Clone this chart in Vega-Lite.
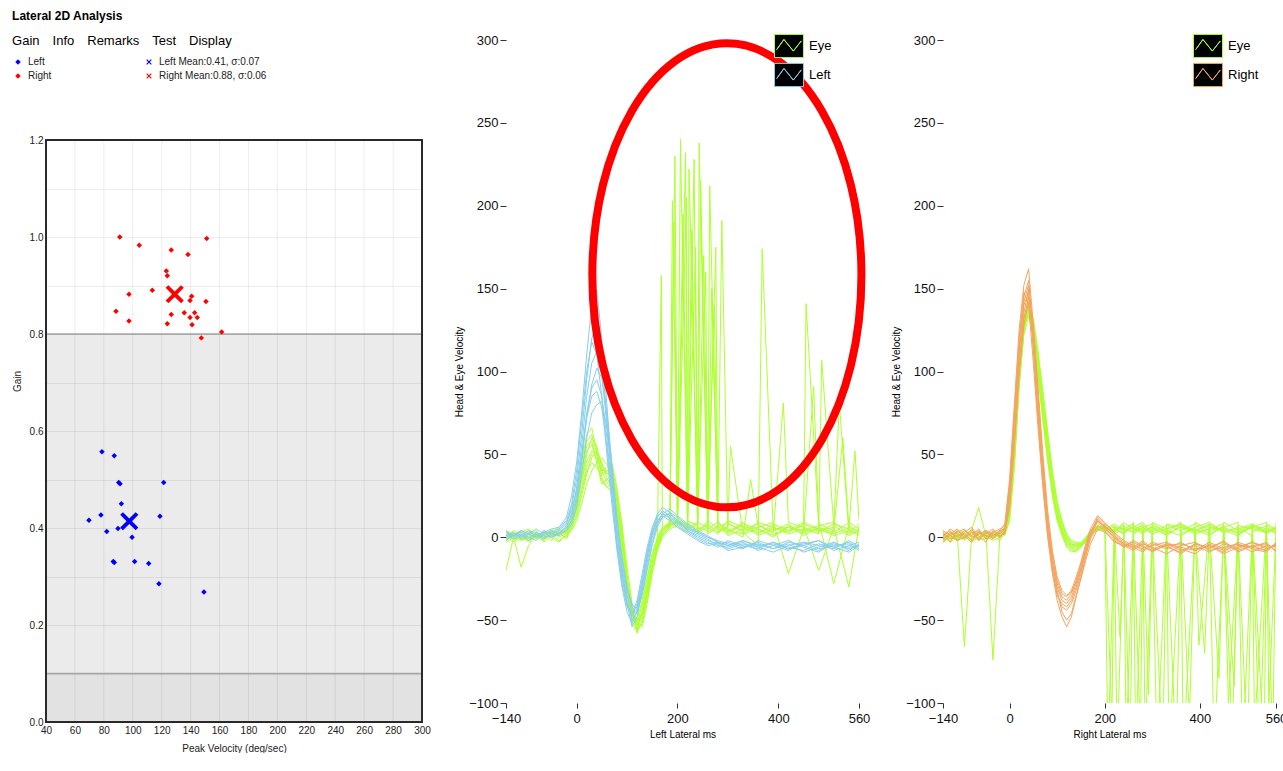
{
"$schema":"https://vega.github.io/schema/vega-lite/v6.json",
"background":"#ffffff",
"padding":{"left":12,"top":10,"right":0,"bottom":0},
"title":{"text":"Lateral 2D Analysis","anchor":"start","fontSize":12,"fontWeight":"bold","font":"Liberation Sans","color":"#000000","offset":4},
"config":{"font":"Liberation Sans","view":{"stroke":null}},
"spacing":84,
"bounds":"flush",
"resolve":{"scale":{"color":"independent","x":"independent","y":"independent","shape":"independent"}},
"datasets":{
"gain":[
{"pv":91.0,"gain":1.000,"s":"Right"},{"pv":104.5,"gain":0.983,"s":"Right"},{"pv":126.6,"gain":0.973,"s":"Right"},{"pv":151.1,"gain":0.997,"s":"Right"},{"pv":138.2,"gain":0.964,"s":"Right"},{"pv":123.2,"gain":0.930,"s":"Right"},{"pv":123.9,"gain":0.920,"s":"Right"},{"pv":97.4,"gain":0.882,"s":"Right"},{"pv":113.5,"gain":0.890,"s":"Right"},{"pv":140.7,"gain":0.878,"s":"Right"},{"pv":139.6,"gain":0.869,"s":"Right"},{"pv":150.6,"gain":0.867,"s":"Right"},{"pv":88.4,"gain":0.847,"s":"Right"},{"pv":97.4,"gain":0.827,"s":"Right"},{"pv":126.6,"gain":0.840,"s":"Right"},{"pv":135.6,"gain":0.844,"s":"Right"},{"pv":142.8,"gain":0.844,"s":"Right"},{"pv":139.6,"gain":0.834,"s":"Right"},{"pv":144.6,"gain":0.834,"s":"Right"},{"pv":123.9,"gain":0.821,"s":"Right"},{"pv":141.0,"gain":0.819,"s":"Right"},{"pv":147.4,"gain":0.792,"s":"Right"},{"pv":161.5,"gain":0.804,"s":"Right"},
{"pv":78.7,"gain":0.557,"s":"Left"},{"pv":87.2,"gain":0.549,"s":"Left"},{"pv":90.3,"gain":0.494,"s":"Left"},{"pv":91.2,"gain":0.491,"s":"Left"},{"pv":121.4,"gain":0.494,"s":"Left"},{"pv":92.1,"gain":0.450,"s":"Left"},{"pv":78.0,"gain":0.427,"s":"Left"},{"pv":69.7,"gain":0.416,"s":"Left"},{"pv":118.8,"gain":0.424,"s":"Left"},{"pv":82.0,"gain":0.393,"s":"Left"},{"pv":89.8,"gain":0.399,"s":"Left"},{"pv":99.5,"gain":0.381,"s":"Left"},{"pv":86.5,"gain":0.331,"s":"Left"},{"pv":87.2,"gain":0.329,"s":"Left"},{"pv":101.3,"gain":0.331,"s":"Left"},{"pv":111.0,"gain":0.327,"s":"Left"},{"pv":118.1,"gain":0.285,"s":"Left"},{"pv":149.2,"gain":0.268,"s":"Left"}
],
"gmean":[
{"pv":97.6,"gain":0.414,"s":"Left Mean:0.41, σ:0.07"},{"pv":129.0,"gain":0.882,"s":"Right Mean:0.88, σ:0.06"}
],
"mid":[
{"t":-140,"h1":3,"h2":-2,"h3":4,"h4":1,"h5":-1,"h6":2,"h7":0,"h8":3,"e1":-20,"e2":2,"e3":-1,"e4":3,"e5":0,"e6":-2,"e7":1,"e8":4,"e9":-3,"e10":1},
{"t":-125,"h1":1,"h2":2,"h3":0,"h4":3,"h5":1,"h6":-1,"h7":2,"h8":1,"e1":0,"e2":-3,"e3":2,"e4":0,"e5":4,"e6":1,"e7":-1,"e8":2,"e9":0,"e10":3},
{"t":-110,"h1":4,"h2":0,"h3":2,"h4":-1,"h5":3,"h6":1,"h7":1,"h8":4,"e1":-18,"e2":1,"e3":4,"e4":-2,"e5":1,"e6":3,"e7":0,"e8":-1,"e9":2,"e10":-2},
{"t":-95,"h1":2,"h2":3,"h3":-1,"h4":2,"h5":0,"h6":4,"h7":-2,"h8":2,"e1":-5,"e2":4,"e3":0,"e4":2,"e5":-3,"e6":5,"e7":2,"e8":1,"e9":-2,"e10":0},
{"t":-80,"h1":0,"h2":1,"h3":3,"h4":0,"h5":-2,"h6":2,"h7":1,"h8":5,"e1":2,"e2":0,"e3":3,"e4":-1,"e5":2,"e6":-1,"e7":4,"e8":0,"e9":3,"e10":2},
{"t":-65,"h1":3,"h2":-1,"h3":1,"h4":4,"h5":2,"h6":0,"h7":3,"h8":2,"e1":0,"e2":-2,"e3":1,"e4":4,"e5":-1,"e6":2,"e7":-3,"e8":3,"e9":1,"e10":-1},
{"t":-50,"h1":5,"h2":2,"h3":0,"h4":2,"h5":4,"h6":1,"h7":0,"h8":3,"e1":3,"e2":3,"e3":-2,"e4":0,"e5":5,"e6":0,"e7":1,"e8":2,"e9":4,"e10":3},
{"t":-35,"h1":6,"h2":4,"h3":3,"h4":1,"h5":2,"h6":5,"h7":2,"h8":6,"e1":1,"e2":2,"e3":4,"e4":-3,"e5":0,"e6":3,"e7":2,"e8":-2,"e9":2,"e10":5},
{"t":-20,"h1":12,"h2":8,"h3":6,"h4":5,"h5":7,"h6":9,"h7":4,"h8":10,"e1":4,"e2":6,"e3":3,"e4":2,"e5":3,"e6":-1,"e7":5,"e8":1,"e9":0,"e10":2},
{"t":-10,"h1":25,"h2":18,"h3":14,"h4":10,"h5":12,"h6":16,"h7":8,"h8":20,"e1":10,"e2":14,"e3":8,"e4":5,"e5":9,"e6":6,"e7":11,"e8":4,"e9":7,"e10":8},
{"t":0,"h1":45,"h2":35,"h3":30,"h4":22,"h5":25,"h6":28,"h7":18,"h8":40,"e1":20,"e2":28,"e3":16,"e4":12,"e5":22,"e6":14,"e7":24,"e8":10,"e9":18,"e10":19},
{"t":10,"h1":75,"h2":62,"h3":55,"h4":45,"h5":48,"h6":50,"h7":38,"h8":70,"e1":35,"e2":45,"e3":30,"e4":25,"e5":40,"e6":28,"e7":42,"e8":20,"e9":36,"e10":34},
{"t":20,"h1":110,"h2":95,"h3":85,"h4":72,"h5":75,"h6":72,"h7":60,"h8":100,"e1":50,"e2":62,"e3":42,"e4":38,"e5":55,"e6":40,"e7":58,"e8":32,"e9":52,"e10":46},
{"t":30,"h1":140,"h2":120,"h3":105,"h4":92,"h5":90,"h6":85,"h7":75,"h8":118,"e1":60,"e2":66,"e3":50,"e4":48,"e5":58,"e6":45,"e7":62,"e8":40,"e9":56,"e10":52},
{"t":40,"h1":149,"h2":128,"h3":112,"h4":102,"h5":95,"h6":88,"h7":80,"h8":110,"e1":55,"e2":52,"e3":48,"e4":52,"e5":45,"e6":42,"e7":50,"e8":45,"e9":46,"e10":50},
{"t":50,"h1":120,"h2":108,"h3":98,"h4":96,"h5":85,"h6":78,"h7":82,"h8":85,"e1":42,"e2":36,"e3":40,"e4":45,"e5":32,"e6":38,"e7":40,"e8":48,"e9":34,"e10":44},
{"t":60,"h1":80,"h2":72,"h3":68,"h4":75,"h5":60,"h6":55,"h7":66,"h8":50,"e1":38,"e2":30,"e3":42,"e4":36,"e5":35,"e6":40,"e7":33,"e8":44,"e9":30,"e10":39},
{"t":70,"h1":40,"h2":35,"h3":34,"h4":45,"h5":28,"h6":25,"h7":40,"h8":20,"e1":40,"e2":28,"e3":45,"e4":30,"e5":38,"e6":42,"e7":30,"e8":38,"e9":32,"e10":36},
{"t":80,"h1":5,"h2":2,"h3":4,"h4":12,"h5":-2,"h6":-5,"h7":10,"h8":-8,"e1":25,"e2":12,"e3":30,"e4":18,"e5":22,"e6":28,"e7":15,"e8":24,"e9":18,"e10":21},
{"t":90,"h1":-20,"h2":-22,"h3":-18,"h4":-12,"h5":-25,"h6":-28,"h7":-15,"h8":-30,"e1":0,"e2":-10,"e3":5,"e4":-5,"e5":-2,"e6":8,"e7":-8,"e8":2,"e9":-4,"e10":0},
{"t":100,"h1":-38,"h2":-40,"h3":-35,"h4":-30,"h5":-40,"h6":-42,"h7":-32,"h8":-45,"e1":-30,"e2":-35,"e3":-25,"e4":-28,"e5":-30,"e6":-18,"e7":-32,"e8":-22,"e9":-28,"e10":-26},
{"t":110,"h1":-50,"h2":-54,"h3":-45,"h4":-42,"h5":-48,"h6":-46,"h7":-40,"h8":-52,"e1":-48,"e2":-50,"e3":-45,"e4":-42,"e5":-52,"e6":-40,"e7":-47,"e8":-42,"e9":-46,"e10":-44},
{"t":120,"h1":-45,"h2":-48,"h3":-42,"h4":-46,"h5":-40,"h6":-38,"h7":-44,"h8":-44,"e1":-55,"e2":-53,"e3":-58,"e4":-50,"e5":-57,"e6":-52,"e7":-50,"e8":-56,"e9":-54,"e10":-52},
{"t":130,"h1":-30,"h2":-32,"h3":-28,"h4":-35,"h5":-25,"h6":-22,"h7":-34,"h8":-28,"e1":-45,"e2":-40,"e3":-50,"e4":-46,"e5":-44,"e6":-54,"e7":-38,"e8":-52,"e9":-48,"e10":-46},
{"t":140,"h1":-12,"h2":-15,"h3":-10,"h4":-20,"h5":-8,"h6":-6,"h7":-18,"h8":-12,"e1":-30,"e2":-25,"e3":-35,"e4":-32,"e5":-28,"e6":-40,"e7":-24,"e8":-38,"e9":-34,"e10":-31},
{"t":150,"h1":2,"h2":0,"h3":3,"h4":-5,"h5":5,"h6":6,"h7":-3,"h8":2,"e1":-15,"e2":-10,"e3":-18,"e4":-18,"e5":-12,"e6":-22,"e7":-10,"e8":-20,"e9":-16,"e10":-15},
{"t":160,"h1":10,"h2":8,"h3":12,"h4":6,"h5":14,"h6":13,"h7":8,"h8":10,"e1":-5,"e2":0,"e3":-6,"e4":-8,"e5":-2,"e6":-8,"e7":-1,"e8":-7,"e9":-4,"e10":-3},
{"t":170,"h1":14,"h2":12,"h3":16,"h4":12,"h5":18,"h6":15,"h7":14,"h8":13,"e1":3,"e2":6,"e3":2,"e4":0,"e5":4,"e6":1,"e7":5,"e8":2,"e9":4,"e10":4},
{"t":185,"h1":12,"h2":14,"h3":13,"h4":15,"h5":15,"h6":11,"h7":17,"h8":10,"e1":8,"e2":9,"e3":6,"e4":5,"e5":10,"e6":7,"e7":8,"e8":6,"e9":9,"e10":7},
{"t":200,"h1":8,"h2":10,"h3":9,"h4":12,"h5":10,"h6":7,"h7":13,"h8":6,"e1":10,"e2":8,"e3":11,"e4":7,"e5":12,"e6":9,"e7":6,"e8":10,"e9":8,"e10":9},
{"t":220,"h1":4,"h2":6,"h3":5,"h4":7,"h5":4,"h6":3,"h7":8,"h8":2,"e1":6,"e2":10,"e3":5,"e4":9,"e5":4,"e6":7,"e7":3,"e8":8,"e9":6,"e10":5},
{"t":240,"h1":1,"h2":3,"h3":2,"h4":3,"h5":0,"h6":-1,"h7":4,"h8":-2,"e1":4,"e2":7,"e3":8,"e4":3,"e5":9,"e6":2,"e7":6,"e8":5,"e9":9,"e10":3},
{"t":260,"h1":-2,"h2":0,"h3":-1,"h4":0,"h5":-3,"h6":-4,"h7":1,"h8":-5,"e1":8,"e2":5,"e3":2,"e4":6,"e5":6,"e6":10,"e7":4,"e8":7,"e9":3,"e10":8},
{"t":280,"h1":-4,"h2":-3,"h3":-5,"h4":-2,"h5":-6,"h6":-3,"h7":-3,"h8":-4,"e1":3,"e2":9,"e3":6,"e4":10,"e5":2,"e6":5,"e7":8,"e8":3,"e9":7,"e10":6},
{"t":300,"h1":-3,"h2":-5,"h3":-6,"h4":-4,"h5":-2,"h6":-7,"h7":-5,"h8":-8,"e1":6,"e2":4,"e3":9,"e4":1,"e5":8,"e6":3,"e7":5,"e8":10,"e9":2,"e10":4},
{"t":330,"h1":-6,"h2":-2,"h3":-3,"h4":-7,"h5":-5,"h6":-4,"h7":-2,"h8":-6,"e1":2,"e2":7,"e3":3,"e4":5,"e5":4,"e6":9,"e7":0,"e8":6,"e9":8,"e10":2},
{"t":360,"h1":-4,"h2":-6,"h3":-8,"h4":-2,"h5":-7,"h6":-6,"h7":-5,"h8":-3,"e1":5,"e2":3,"e3":-5,"e4":8,"e5":6,"e6":1,"e7":7,"e8":2,"e9":5,"e10":9},
{"t":390,"h1":-7,"h2":-3,"h3":-5,"h4":-5,"h5":-3,"h6":-9,"h7":-4,"h8":-7,"e1":0,"e2":6,"e3":4,"e4":2,"e5":9,"e6":5,"e7":3,"e8":8,"e9":1,"e10":6},
{"t":420,"h1":-3,"h2":-7,"h3":-2,"h4":-8,"h5":-6,"h6":-5,"h7":-7,"h8":-4,"e1":7,"e2":2,"e3":8,"e4":4,"e5":-22,"e6":6,"e7":9,"e8":4,"e9":6,"e10":3},
{"t":450,"h1":-5,"h2":-4,"h3":-6,"h4":-3,"h5":-8,"h6":-3,"h7":-5,"h8":-9,"e1":3,"e2":5,"e3":1,"e4":7,"e5":5,"e6":2,"e7":6,"e8":9,"e9":4,"e10":8},
{"t":480,"h1":-8,"h2":-2,"h3":-9,"h4":-5,"h5":-4,"h6":-7,"h7":-2,"h8":-6,"e1":5,"e2":8,"e3":6,"e4":-20,"e5":2,"e6":10,"e7":3,"e8":5,"e9":7,"e10":4},
{"t":510,"h1":-4,"h2":-6,"h3":-3,"h4":-7,"h5":-6,"h6":-5,"h7":-8,"h8":-3,"e1":1,"e2":4,"e3":3,"e4":6,"e5":7,"e6":-28,"e7":8,"e8":2,"e9":9,"e10":6},
{"t":540,"h1":-6,"h2":-3,"h3":-8,"h4":-2,"h5":-9,"h6":-4,"h7":-5,"h8":-7,"e1":4,"e2":6,"e3":9,"e4":3,"e5":1,"e6":7,"e7":5,"e8":6,"e9":2,"e10":-30},
{"t":560,"h1":-5,"h2":-7,"h3":-4,"h4":-6,"h5":-5,"h6":-8,"h7":-3,"h8":-5,"e1":2,"e2":3,"e3":5,"e4":8,"e5":4,"e6":3,"e7":1,"e8":10,"e9":5,"e10":7},
{"t":206,"e1":240},{"t":228,"e1":185},{"t":305,"e1":55},{"t":218,"e2":205},{"t":243,"e2":238},{"t":455,"e2":141},{"t":528,"e2":60},{"t":195,"e3":230},{"t":256,"e3":160},{"t":368,"e3":174},{"t":216,"e4":232},{"t":273,"e4":140},{"t":521,"e4":81},{"t":233,"e5":228},{"t":486,"e5":107},{"t":190,"e6":203},{"t":236,"e6":175},{"t":470,"e6":91},{"t":223,"e7":222},{"t":268,"e7":150},{"t":345,"e7":35},{"t":410,"e7":81},{"t":193,"e8":190},{"t":264,"e8":212},{"t":552,"e8":52},{"t":168,"e9":158},{"t":246,"e9":215},{"t":288,"e9":191},{"t":211,"e10":195},{"t":252,"e10":170},{"t":276,"e10":175}
],
"rgt":[
{"t":-140,"o1":2,"o2":-2,"o3":4,"o4":0,"o5":-3,"o6":3,"o7":1,"o8":-1,"g1":3,"g2":0,"g3":1,"g4":-2,"g5":2,"g6":0,"g7":-1,"g8":4,"g9":1,"g10":-3},
{"t":-125,"o1":-3,"o2":3,"o3":1,"o4":5,"o5":1,"o6":-1,"o7":4,"o8":2,"g1":-1,"g2":2,"g3":-3,"g4":1,"g5":0,"g6":3,"g7":2,"g8":1,"g9":-2,"g10":0},
{"t":-110,"o1":4,"o2":0,"o3":-2,"o4":2,"o5":3,"o6":1,"o7":-2,"o8":5,"g1":2,"g2":-2,"g3":0,"g4":3,"g5":-1,"g6":1,"g7":4,"g8":-1,"g9":2,"g10":1},
{"t":-95,"o1":0,"o2":4,"o3":3,"o4":-1,"o5":5,"o6":2,"o7":0,"o8":1,"g1":-66,"g2":1,"g3":2,"g4":0,"g5":3,"g6":-2,"g7":1,"g8":2,"g9":4,"g10":-1},
{"t":-80,"o1":5,"o2":1,"o3":6,"o4":3,"o5":0,"o6":-2,"o7":3,"o8":-3,"g1":0,"g2":3,"g3":4,"g4":-1,"g5":1,"g6":2,"g7":-3,"g8":0,"g9":1,"g10":4},
{"t":-65,"o1":-2,"o2":5,"o3":0,"o4":1,"o5":2,"o6":4,"o7":-1,"o8":3,"g1":2,"g2":-1,"g3":18,"g4":2,"g5":-2,"g6":4,"g7":0,"g8":3,"g9":-1,"g10":2},
{"t":-50,"o1":3,"o2":-1,"o3":4,"o4":-3,"o5":4,"o6":0,"o7":2,"o8":1,"g1":1,"g2":4,"g3":1,"g4":3,"g5":0,"g6":-1,"g7":2,"g8":-2,"g9":3,"g10":1},
{"t":-35,"o1":1,"o2":2,"o3":2,"o4":4,"o5":-1,"o6":3,"o7":5,"o8":0,"g1":3,"g2":-74,"g3":-2,"g4":1,"g5":2,"g6":0,"g7":3,"g8":1,"g9":0,"g10":-1},
{"t":-20,"o1":4,"o2":0,"o3":1,"o4":2,"o5":3,"o6":5,"o7":0,"o8":4,"g1":2,"g2":3,"g3":0,"g4":-2,"g5":4,"g6":3,"g7":1,"g8":2,"g9":2,"g10":3},
{"t":-10,"o1":8,"o2":4,"o3":2,"o4":5,"o5":6,"o6":7,"o7":3,"o8":5,"g1":4,"g2":5,"g3":2,"g4":3,"g5":1,"g6":2,"g7":4,"g8":3,"g9":5,"g10":2},
{"t":0,"o1":35,"o2":28,"o3":20,"o4":30,"o5":22,"o6":32,"o7":18,"o8":26,"g1":18,"g2":12,"g3":14,"g4":16,"g5":10,"g6":15,"g7":20,"g8":13,"g9":17,"g10":11},
{"t":10,"o1":80,"o2":70,"o3":58,"o4":72,"o5":62,"o6":75,"o7":55,"o8":68,"g1":55,"g2":45,"g3":48,"g4":52,"g5":42,"g6":50,"g7":58,"g8":46,"g9":53,"g10":44},
{"t":20,"o1":125,"o2":115,"o3":100,"o4":112,"o5":104,"o6":120,"o7":98,"o8":110,"g1":100,"g2":95,"g3":96,"g4":98,"g5":92,"g6":99,"g7":104,"g8":94,"g9":100,"g10":90},
{"t":30,"o1":152,"o2":145,"o3":132,"o4":140,"o5":135,"o6":148,"o7":128,"o8":142,"g1":130,"g2":125,"g3":126,"g4":128,"g5":124,"g6":129,"g7":132,"g8":125,"g9":130,"g10":122},
{"t":40,"o1":162,"o2":155,"o3":145,"o4":148,"o5":150,"o6":140,"o7":142,"o8":152,"g1":145,"g2":149,"g3":136,"g4":134,"g5":140,"g6":138,"g7":142,"g8":137,"g9":141,"g10":133},
{"t":50,"o1":128,"o2":120,"o3":118,"o4":112,"o5":122,"o6":105,"o7":125,"o8":116,"g1":130,"g2":128,"g3":124,"g4":122,"g5":132,"g6":120,"g7":126,"g8":128,"g9":124,"g10":126},
{"t":60,"o1":85,"o2":78,"o3":80,"o4":70,"o5":82,"o6":65,"o7":90,"o8":74,"g1":108,"g2":100,"g3":106,"g4":104,"g5":112,"g6":98,"g7":102,"g8":110,"g9":96,"g10":108},
{"t":70,"o1":45,"o2":38,"o3":42,"o4":32,"o5":44,"o6":30,"o7":50,"o8":36,"g1":82,"g2":75,"g3":84,"g4":78,"g5":86,"g6":72,"g7":76,"g8":88,"g9":70,"g10":86},
{"t":80,"o1":10,"o2":5,"o3":10,"o4":2,"o5":12,"o6":0,"o7":16,"o8":4,"g1":58,"g2":50,"g3":56,"g4":52,"g5":60,"g6":48,"g7":50,"g8":62,"g9":46,"g10":64},
{"t":90,"o1":-15,"o2":-18,"o3":-12,"o4":-20,"o5":-10,"o6":-22,"o7":-8,"o8":-16,"g1":34,"g2":28,"g3":30,"g4":30,"g5":36,"g6":26,"g7":28,"g8":38,"g9":25,"g10":40},
{"t":100,"o1":-32,"o2":-35,"o3":-28,"o4":-34,"o5":-26,"o6":-38,"o7":-24,"o8":-30,"g1":16,"g2":12,"g3":14,"g4":15,"g5":18,"g6":11,"g7":13,"g8":20,"g9":10,"g10":22},
{"t":110,"o1":-45,"o2":-40,"o3":-36,"o4":-42,"o5":-34,"o6":-48,"o7":-32,"o8":-38,"g1":6,"g2":3,"g3":4,"g4":5,"g5":8,"g6":2,"g7":4,"g8":9,"g9":1,"g10":10},
{"t":120,"o1":-50,"o2":-42,"o3":-38,"o4":-44,"o5":-36,"o6":-54,"o7":-35,"o8":-40,"g1":-1,"g2":-4,"g3":-2,"g4":-3,"g5":0,"g6":-5,"g7":-2,"g8":1,"g9":-6,"g10":2},
{"t":130,"o1":-46,"o2":-38,"o3":-34,"o4":-40,"o5":-32,"o6":-48,"o7":-33,"o8":-36,"g1":-4,"g2":-7,"g3":-5,"g4":-6,"g5":-4,"g6":-8,"g7":-6,"g8":-3,"g9":-9,"g10":-2},
{"t":140,"o1":-35,"o2":-30,"o3":-26,"o4":-32,"o5":-24,"o6":-36,"o7":-27,"o8":-28,"g1":-6,"g2":-8,"g3":-4,"g4":-7,"g5":-5,"g6":-9,"g7":-5,"g8":-4,"g9":-8,"g10":-3},
{"t":150,"o1":-24,"o2":-20,"o3":-16,"o4":-22,"o5":-15,"o6":-25,"o7":-19,"o8":-18,"g1":-5,"g2":-4,"g3":-3,"g4":-5,"g5":-6,"g6":-6,"g7":-4,"g8":-5,"g9":-5,"g10":-4},
{"t":160,"o1":-12,"o2":-9,"o3":-6,"o4":-10,"o5":-4,"o6":-14,"o7":-8,"o8":-7,"g1":-2,"g2":0,"g3":-1,"g4":-3,"g5":-2,"g6":-2,"g7":0,"g8":-1,"g9":-3,"g10":-1},
{"t":170,"o1":0,"o2":2,"o3":4,"o4":-1,"o5":5,"o6":-4,"o7":2,"o8":3,"g1":2,"g2":3,"g3":4,"g4":1,"g5":3,"g6":2,"g7":4,"g8":2,"g9":1,"g10":3},
{"t":185,"o1":10,"o2":12,"o3":9,"o4":7,"o5":13,"o6":5,"o7":10,"o8":11,"g1":6,"g2":7,"g3":5,"g4":4,"g5":6,"g6":5,"g7":7,"g8":4,"g9":6,"g10":5},
{"t":200,"o1":6,"o2":8,"o3":5,"o4":4,"o5":9,"o6":3,"o7":7,"o8":6,"g1":5,"g2":6,"g3":8,"g4":7,"g5":4,"g6":8,"g7":5,"g8":6,"g9":7,"g10":4},
{"t":220,"o1":0,"o2":2,"o3":-1,"o4":-3,"o5":3,"o6":-2,"o7":1,"o8":0,"g1":4,"g2":3,"g3":6,"g4":2,"g5":7,"g6":4,"g7":8,"g8":3,"g9":5,"g10":6},
{"t":240,"o1":-4,"o2":-3,"o3":-6,"o4":-5,"o5":-2,"o6":-6,"o7":-4,"o8":-5,"g1":7,"g2":8,"g3":2,"g4":5,"g5":3,"g6":7,"g7":4,"g8":9,"g9":2,"g10":5},
{"t":260,"o1":-7,"o2":-6,"o3":-2,"o4":-8,"o5":-5,"o6":-4,"o7":-6,"o8":-3,"g1":3,"g2":5,"g3":9,"g4":8,"g5":6,"g6":2,"g7":6,"g8":5,"g9":7,"g10":3},
{"t":280,"o1":-3,"o2":-9,"o3":-5,"o4":-4,"o5":-7,"o6":-8,"o7":-2,"o8":-6,"g1":6,"g2":2,"g3":5,"g4":4,"g5":9,"g6":6,"g7":3,"g8":7,"g9":4,"g10":8},
{"t":300,"o1":-8,"o2":-4,"o3":-9,"o4":-6,"o5":-3,"o6":-5,"o7":-7,"o8":-8,"g1":2,"g2":7,"g3":3,"g4":6,"g5":2,"g6":8,"g7":9,"g8":4,"g9":6,"g10":5},
{"t":330,"o1":-5,"o2":-7,"o3":-4,"o4":-10,"o5":-6,"o6":-3,"o7":-4,"o8":-5,"g1":5,"g2":4,"g3":7,"g4":1,"g5":5,"g6":3,"g7":5,"g8":8,"g9":3,"g10":2},
{"t":360,"o1":-10,"o2":-3,"o3":-6,"o4":-5,"o5":-9,"o6":-7,"o7":-8,"o8":-4,"g1":8,"g2":1,"g3":4,"g4":7,"g5":8,"g6":5,"g7":2,"g8":6,"g9":9,"g10":6},
{"t":390,"o1":-4,"o2":-8,"o3":-8,"o4":-3,"o5":-4,"o6":-10,"o7":-5,"o8":-7,"g1":3,"g2":6,"g3":8,"g4":3,"g5":4,"g6":9,"g7":6,"g8":2,"g9":5,"g10":4},
{"t":420,"o1":-7,"o2":-5,"o3":-3,"o4":-8,"o5":-6,"o6":-4,"o7":-9,"o8":-5,"g1":6,"g2":9,"g3":2,"g4":5,"g5":7,"g6":4,"g7":8,"g8":5,"g9":1,"g10":8},
{"t":450,"o1":-2,"o2":-10,"o3":-7,"o4":-6,"o5":-3,"o6":-8,"o7":-4,"o8":-9,"g1":4,"g2":3,"g3":6,"g4":8,"g5":3,"g6":6,"g7":4,"g8":9,"g9":7,"g10":5},
{"t":480,"o1":-9,"o2":-6,"o3":-4,"o4":-4,"o5":-8,"o6":-5,"o7":-7,"o8":-3,"g1":1,"g2":5,"g3":9,"g4":2,"g5":6,"g6":2,"g7":7,"g8":4,"g9":5,"g10":3},
{"t":510,"o1":-5,"o2":-3,"o3":-9,"o4":-7,"o5":-5,"o6":-6,"o7":-3,"o8":-6,"g1":7,"g2":8,"g3":3,"g4":6,"g5":1,"g6":7,"g7":5,"g8":7,"g9":8,"g10":6},
{"t":540,"o1":-8,"o2":-7,"o3":-5,"o4":-9,"o5":-4,"o6":-3,"o7":-6,"o8":-8,"g1":3,"g2":2,"g3":7,"g4":4,"g5":8,"g6":5,"g7":3,"g8":6,"g9":3,"g10":9},
{"t":560,"o1":-4,"o2":-5,"o3":-6,"o4":-3,"o5":-8,"o6":-9,"o7":-5,"o8":-4,"g1":5,"g2":6,"g3":4,"g4":9,"g5":5,"g6":3,"g7":6,"g8":2,"g9":6,"g10":4},
{"t":226,"g1":-130},{"t":410,"g1":-70},{"t":535,"g1":-130},{"t":245,"g2":-125},{"t":500,"g2":-130},{"t":215,"g3":-110},{"t":265,"g3":-130},{"t":490,"g3":-130},{"t":275,"g4":-120},{"t":460,"g4":-100},{"t":553,"g4":-125},{"t":232,"g5":-60},{"t":310,"g5":-130},{"t":515,"g5":-115},{"t":253,"g6":-130},{"t":335,"g6":-130},{"t":378,"g6":-110},{"t":285,"g7":-125},{"t":350,"g7":-130},{"t":398,"g7":-65},{"t":472,"g7":-90},{"t":322,"g8":-130},{"t":440,"g8":-85},{"t":526,"g8":-130},{"t":207,"g9":-130},{"t":365,"g9":-130},{"t":468,"g9":-120},{"t":292,"g10":-95},{"t":430,"g10":-130},{"t":545,"g10":-100}
]
},
"hconcat":[
{
"width":376,"height":682,
"title":{"text":"Gain\u2003Info\u2003Remarks\u2003Test\u2003Display","anchor":"start","frame":"bounds","fontSize":13,"fontWeight":"normal","color":"#000000","offset":-8},
"layer":[
{"data":{"values":[{"lo":0,"hi":0.8}]},"mark":{"type":"rect","fill":"#ebebeb"},
 "encoding":{
  "x":{"datum":40,"type":"quantitative","scale":{"domain":[40,300],"nice":false,"zero":false},"axis":{"title":"Peak Velocity (deg/sec)","values":[40,60,80,100,120,140,160,180,200,220,240,260,280,300],"grid":false,"domain":false,"ticks":false,"labelPadding":3,"labelFontSize":10,"labelColor":"#222222","labelFlush":false,"labelOverlap":false,"titleFontSize":10,"titleFontWeight":"normal","titleColor":"#222222","titlePadding":8,"zindex":1}},
  "x2":{"datum":300},
  "y":{"field":"lo","type":"quantitative","scale":{"domain":[0,1.40619],"nice":false,"zero":true},"axis":{"title":"Gain","values":[0,0.1,0.2,0.3,0.4,0.5,0.6,0.7,0.8,0.9,1,1.1,1.2],"labelExpr":"round(datum.value*10) % 2 == 0 ? format(datum.value, '.1f') : ''","grid":true,"gridColor":"#000000","gridOpacity":0.07,"domain":false,"ticks":false,"labelPadding":3,"labelFontSize":10,"labelColor":"#222222","labelOverlap":false,"titleFontSize":10,"titleFontWeight":"normal","titleColor":"#222222","titlePadding":7,"zindex":1}},
  "y2":{"field":"hi"}}},
{"data":{"values":[{"lo":0,"hi":0.1}]},"mark":{"type":"rect","fill":"#e2e2e2"},
 "encoding":{
  "x":{"datum":40,"type":"quantitative","axis":{"title":"Peak Velocity (deg/sec)","values":[40,60,80,100,120,140,160,180,200,220,240,260,280,300],"grid":false,"domain":false,"ticks":false,"labelPadding":3,"labelFontSize":10,"labelColor":"#222222","labelFlush":false,"labelOverlap":false,"titleFontSize":10,"titleFontWeight":"normal","titleColor":"#222222","titlePadding":8,"zindex":1}},
  "x2":{"datum":300},
  "y":{"field":"lo","type":"quantitative","axis":{"title":"Gain","values":[0,0.1,0.2,0.3,0.4,0.5,0.6,0.7,0.8,0.9,1,1.1,1.2],"labelExpr":"round(datum.value*10) % 2 == 0 ? format(datum.value, '.1f') : ''","grid":true,"gridColor":"#000000","gridOpacity":0.07,"domain":false,"ticks":false,"labelPadding":3,"labelFontSize":10,"labelColor":"#222222","labelOverlap":false,"titleFontSize":10,"titleFontWeight":"normal","titleColor":"#222222","titlePadding":7,"zindex":1}},
  "y2":{"field":"hi"}}},
{"data":{"values":[{"gx":60},{"gx":80},{"gx":100},{"gx":120},{"gx":140},{"gx":160},{"gx":180},{"gx":200},{"gx":220},{"gx":240},{"gx":260},{"gx":280}]},
 "mark":{"type":"rule","color":"#000000","opacity":0.07,"strokeWidth":1},
 "encoding":{
  "x":{"field":"gx","type":"quantitative","axis":{"title":"Peak Velocity (deg/sec)","values":[40,60,80,100,120,140,160,180,200,220,240,260,280,300],"grid":false,"domain":false,"ticks":false,"labelPadding":3,"labelFontSize":10,"labelColor":"#222222","labelFlush":false,"labelOverlap":false,"titleFontSize":10,"titleFontWeight":"normal","titleColor":"#222222","titlePadding":8,"zindex":1}},
  "y":{"datum":0,"type":"quantitative","axis":{"title":"Gain","values":[0,0.1,0.2,0.3,0.4,0.5,0.6,0.7,0.8,0.9,1,1.1,1.2],"labelExpr":"round(datum.value*10) % 2 == 0 ? format(datum.value, '.1f') : ''","grid":true,"gridColor":"#000000","gridOpacity":0.07,"domain":false,"ticks":false,"labelPadding":3,"labelFontSize":10,"labelColor":"#222222","labelOverlap":false,"titleFontSize":10,"titleFontWeight":"normal","titleColor":"#222222","titlePadding":7,"zindex":1}},
  "y2":{"datum":1.2}}},
{"data":{"values":[{"g":0.8},{"g":0.1}]},"mark":{"type":"rule","color":"#a6a6a6","strokeWidth":1.5},
 "encoding":{"y":{"field":"g","type":"quantitative","axis":{"title":"Gain","values":[0,0.1,0.2,0.3,0.4,0.5,0.6,0.7,0.8,0.9,1,1.1,1.2],"labelExpr":"round(datum.value*10) % 2 == 0 ? format(datum.value, '.1f') : ''","grid":true,"gridColor":"#000000","gridOpacity":0.07,"domain":false,"ticks":false,"labelPadding":3,"labelFontSize":10,"labelColor":"#222222","labelOverlap":false,"titleFontSize":10,"titleFontWeight":"normal","titleColor":"#222222","titlePadding":7,"zindex":1}}}},
{"data":{"values":[{}]},"mark":{"type":"rect","fill":"transparent","stroke":"#2a2a2a","strokeWidth":2},
 "encoding":{
  "x":{"datum":40,"type":"quantitative","axis":{"title":"Peak Velocity (deg/sec)","values":[40,60,80,100,120,140,160,180,200,220,240,260,280,300],"grid":false,"domain":false,"ticks":false,"labelPadding":3,"labelFontSize":10,"labelColor":"#222222","labelFlush":false,"labelOverlap":false,"titleFontSize":10,"titleFontWeight":"normal","titleColor":"#222222","titlePadding":8,"zindex":1}},
  "x2":{"datum":300},
  "y":{"datum":0,"type":"quantitative","axis":{"title":"Gain","values":[0,0.1,0.2,0.3,0.4,0.5,0.6,0.7,0.8,0.9,1,1.1,1.2],"labelExpr":"round(datum.value*10) % 2 == 0 ? format(datum.value, '.1f') : ''","grid":true,"gridColor":"#000000","gridOpacity":0.07,"domain":false,"ticks":false,"labelPadding":3,"labelFontSize":10,"labelColor":"#222222","labelOverlap":false,"titleFontSize":10,"titleFontWeight":"normal","titleColor":"#222222","titlePadding":7,"zindex":1}},
  "y2":{"datum":1.2}}},
{"data":{"name":"gain"},"mark":{"type":"point","filled":true,"opacity":1,"size":30},
 "encoding":{
  "x":{"field":"pv","type":"quantitative","axis":{"title":"Peak Velocity (deg/sec)","values":[40,60,80,100,120,140,160,180,200,220,240,260,280,300],"grid":false,"domain":false,"ticks":false,"labelPadding":3,"labelFontSize":10,"labelColor":"#222222","labelFlush":false,"labelOverlap":false,"titleFontSize":10,"titleFontWeight":"normal","titleColor":"#222222","titlePadding":8,"zindex":1}},
  "y":{"field":"gain","type":"quantitative","axis":{"title":"Gain","values":[0,0.1,0.2,0.3,0.4,0.5,0.6,0.7,0.8,0.9,1,1.1,1.2],"labelExpr":"round(datum.value*10) % 2 == 0 ? format(datum.value, '.1f') : ''","grid":true,"gridColor":"#000000","gridOpacity":0.07,"domain":false,"ticks":false,"labelPadding":3,"labelFontSize":10,"labelColor":"#222222","labelOverlap":false,"titleFontSize":10,"titleFontWeight":"normal","titleColor":"#222222","titlePadding":7,"zindex":1}},
  "color":{"field":"s","type":"nominal","scale":{"domain":["Left","Left Mean:0.41, σ:0.07","Right","Right Mean:0.88, σ:0.06"],"range":["#0000FF","#0000FF","#FF0000","#FF0000"]},
   "legend":{"title":null,"orient":"none","legendX":-33,"legendY":17,"columns":2,"columnPadding":92,"rowPadding":4,"labelFontSize":10,"labelColor":"#222222","symbolSize":30,"labelOffset":5,"direction":"horizontal","encode":{"symbols":{"update":{"size":{"value":30}}}}}},
  "shape":{"field":"s","type":"nominal","scale":{"domain":["Left","Left Mean:0.41, σ:0.07","Right","Right Mean:0.88, σ:0.06"],"range":["diamond","M-1,-0.7L-0.7,-1L0,-0.3L0.7,-1L1,-0.7L0.3,0L1,0.7L0.7,1L0,0.3L-0.7,1L-1,0.7L-0.3,0Z","diamond","M-1,-0.7L-0.7,-1L0,-0.3L0.7,-1L1,-0.7L0.3,0L1,0.7L0.7,1L0,0.3L-0.7,1L-1,0.7L-0.3,0Z"]},
   "legend":{"title":null,"orient":"none","legendX":-33,"legendY":17,"columns":2,"columnPadding":92,"rowPadding":4,"labelFontSize":10,"labelColor":"#222222","symbolSize":30,"labelOffset":5,"direction":"horizontal","encode":{"symbols":{"update":{"size":{"value":30}}}}}}
 }},
{"data":{"name":"gmean"},"mark":{"type":"point","filled":true,"opacity":1,"size":330},
 "encoding":{
  "x":{"field":"pv","type":"quantitative","axis":{"title":"Peak Velocity (deg/sec)","values":[40,60,80,100,120,140,160,180,200,220,240,260,280,300],"grid":false,"domain":false,"ticks":false,"labelPadding":3,"labelFontSize":10,"labelColor":"#222222","labelFlush":false,"labelOverlap":false,"titleFontSize":10,"titleFontWeight":"normal","titleColor":"#222222","titlePadding":8,"zindex":1}},
  "y":{"field":"gain","type":"quantitative","axis":{"title":"Gain","values":[0,0.1,0.2,0.3,0.4,0.5,0.6,0.7,0.8,0.9,1,1.1,1.2],"labelExpr":"round(datum.value*10) % 2 == 0 ? format(datum.value, '.1f') : ''","grid":true,"gridColor":"#000000","gridOpacity":0.07,"domain":false,"ticks":false,"labelPadding":3,"labelFontSize":10,"labelColor":"#222222","labelOverlap":false,"titleFontSize":10,"titleFontWeight":"normal","titleColor":"#222222","titlePadding":7,"zindex":1}},
  "color":{"field":"s","type":"nominal"},
  "shape":{"field":"s","type":"nominal"}
 }}
]
},
{
"width":353,"height":663,
"data":{"name":"mid"},
"layer":[
{"transform":[{"fold":["e1","e2","e3","e4","e5","e6","e7","e8","e9","e10"],"as":["trace","v"]},{"filter":"isValid(datum.v)"}],
 "mark":{"type":"line","strokeWidth":1,"clip":true},
 "encoding":{
  "x":{"field":"t","type":"quantitative","scale":{"domain":[-140,560],"nice":false,"zero":false},
   "axis":{"title":"Left Lateral ms","values":[-140,0,200,400,560],"grid":false,"domain":false,"tickSize":5,"tickColor":"#333333","labelFontSize":13,"labelColor":"#111111","labelPadding":4,"labelFlush":false,"labelOverlap":false,"titleFontSize":10,"titleFontWeight":"normal","titleColor":"#000000","titlePadding":4}},
  "y":{"field":"v","type":"quantitative","scale":{"domain":[-100,300],"nice":false},
   "axis":{"title":"Head & Eye Velocity","values":[-100,-50,0,50,100,150,200,250,300],"grid":false,"domain":false,"tickSize":6,"tickColor":"#333333","labelFontSize":13,"labelColor":"#111111","labelPadding":2,"labelOverlap":false,"titleFontSize":10,"titleFontWeight":"normal","titleColor":"#000000","titlePadding":4}},
  "detail":{"field":"trace","type":"nominal"},
  "color":{"datum":"Eye","type":"nominal","scale":{"domain":["Eye","Left"],"range":["#ADFF2F","#87CEEB"]},
   "legend":{"title":null,"orient":"none","legendX":268,"legendY":-9,"symbolType":"M-1,-0.8H1V0.8H-1Z M-0.85,0.25L-0.35,-0.45L0.3,0.35L0.85,-0.35L0.3,0.35L-0.35,-0.45Z","symbolSize":841,"symbolStrokeWidth":1,"symbolFillColor":"#000000","labelFontSize":13,"labelColor":"#000000","labelOffset":5,"rowPadding":-4,
    "encode":{"symbols":{"update":{"fill":{"value":"#000000"}}}}}}
 }},
{"transform":[{"fold":["h1","h2","h3","h4","h5","h6","h7","h8"],"as":["trace","v"]},{"filter":"isValid(datum.v)"}],
 "mark":{"type":"line","strokeWidth":1,"clip":true},
 "encoding":{
  "x":{"field":"t","type":"quantitative"},
  "y":{"field":"v","type":"quantitative"},
  "detail":{"field":"trace","type":"nominal"},
  "color":{"datum":"Left","type":"nominal"}
 }},
{"data":{"values":[{"t":298,"v":158}]},
 "mark":{"type":"point","shape":"M-0.58,0A0.58,1 0 1,1 0.58,0A0.58,1 0 1,1 -0.58,0","size":215296,"stroke":"#FF0000","strokeWidth":8,"filled":false,"opacity":1},
 "encoding":{"x":{"field":"t","type":"quantitative"},"y":{"field":"v","type":"quantitative"}}}
]
},
{
"width":333,"height":663,
"data":{"name":"rgt"},
"layer":[
{"transform":[{"fold":["g1","g2","g3","g4","g5","g6","g7","g8","g9","g10"],"as":["trace","v"]},{"filter":"isValid(datum.v)"}],
 "mark":{"type":"line","strokeWidth":1,"clip":true},
 "encoding":{
  "x":{"field":"t","type":"quantitative","scale":{"domain":[-140,560],"nice":false,"zero":false},
   "axis":{"title":"Right Lateral ms","values":[-140,0,200,400,560],"grid":false,"domain":false,"tickSize":5,"tickColor":"#333333","labelFontSize":13,"labelColor":"#111111","labelPadding":4,"labelFlush":false,"labelOverlap":false,"titleFontSize":10,"titleFontWeight":"normal","titleColor":"#000000","titlePadding":4}},
  "y":{"field":"v","type":"quantitative","scale":{"domain":[-100,300],"nice":false},
   "axis":{"title":"Head & Eye Velocity","values":[-100,-50,0,50,100,150,200,250,300],"grid":false,"domain":false,"tickSize":6,"tickColor":"#333333","labelFontSize":13,"labelColor":"#111111","labelPadding":2,"labelOverlap":false,"titleFontSize":10,"titleFontWeight":"normal","titleColor":"#000000","titlePadding":4}},
  "detail":{"field":"trace","type":"nominal"},
  "color":{"datum":"Eye","type":"nominal","scale":{"domain":["Eye","Right"],"range":["#ADFF2F","#F4A460"]},
   "legend":{"title":null,"orient":"none","legendX":250,"legendY":-9,"symbolType":"M-1,-0.8H1V0.8H-1Z M-0.85,0.25L-0.35,-0.45L0.3,0.35L0.85,-0.35L0.3,0.35L-0.35,-0.45Z","symbolSize":841,"symbolStrokeWidth":1,"symbolFillColor":"#000000","labelFontSize":13,"labelColor":"#000000","labelOffset":5,"rowPadding":-4,
    "encode":{"symbols":{"update":{"fill":{"value":"#000000"}}}}}}
 }},
{"transform":[{"fold":["o1","o2","o3","o4","o5","o6","o7","o8"],"as":["trace","v"]},{"filter":"isValid(datum.v)"}],
 "mark":{"type":"line","strokeWidth":1,"clip":true},
 "encoding":{
  "x":{"field":"t","type":"quantitative"},
  "y":{"field":"v","type":"quantitative"},
  "detail":{"field":"trace","type":"nominal"},
  "color":{"datum":"Right","type":"nominal"}
 }}
]
}
]
}
